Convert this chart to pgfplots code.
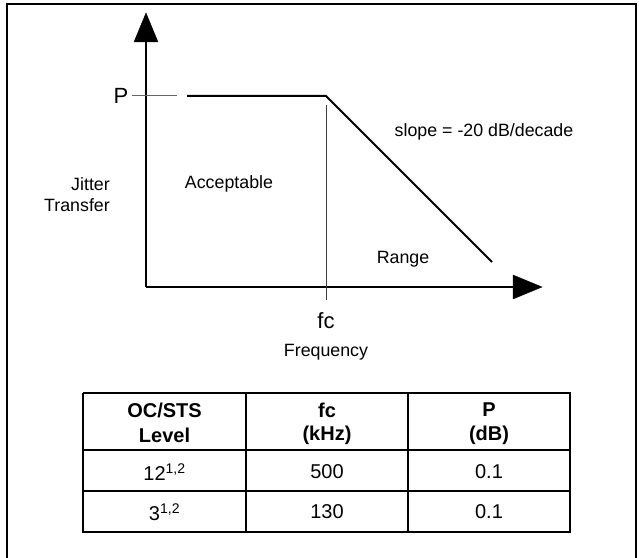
\documentclass[border=0pt]{standalone}
\usepackage{fontspec}
\setmainfont{Liberation Sans}
\usepackage{pgfplots}
\pgfplotsset{compat=1.18}
\begin{document}
\begin{tikzpicture}
\begin{axis}[
  width=639pt, height=557pt, scale only axis,
  xmin=0, xmax=639, ymin=0, ymax=557,
  hide axis, clip=true,
]
% invisible bounding
\addplot[draw=none, forget plot] coordinates {(0,0) (639,557)};
% outer frame
\addplot[black, line width=2.2pt] coordinates {(7,-5) (7,553) (636,553) (636,-5)};
% axes
\addplot[black, line width=1.2pt] coordinates {(146,270) (146,517)};
\addplot[black, line width=1.2pt] coordinates {(146,270) (515,270)};
\addplot[black, fill=black] coordinates {(134,515) (146,544) (158,515)} -- cycle;
\addplot[black, fill=black] coordinates {(513,282) (542,270) (513,258)} -- cycle;
% P tick
\addplot[black!60, line width=1pt] coordinates {(132,461) (177,461)};
% transfer curve
\addplot[black, line width=2pt] coordinates {(187,461) (326,461) (492,295)};
% fc marker
\addplot[black!75, line width=1pt] coordinates {(326,452) (326,257)};
% labels
\node[font=\fontsize{22}{26}\selectfont] at (axis cs:121,461) {P};
\node[font=\fontsize{22}{26}\selectfont] at (axis cs:326,236) {fc};
\node[font=\fontsize{17.8}{21}\selectfont] at (axis cs:326,205) {Frequency};
\node[font=\fontsize{17.8}{21}\selectfont, anchor=east, inner sep=0pt] at (axis cs:110,373) {Jitter};
\node[font=\fontsize{17.8}{21}\selectfont, anchor=east, inner sep=0pt] at (axis cs:110,352) {Transfer};
\node[font=\fontsize{17.8}{21}\selectfont] at (axis cs:229,373) {Acceptable};
\node[font=\fontsize{17.8}{21}\selectfont] at (axis cs:484,425) {slope = -20 dB/decade};
\node[font=\fontsize{17.8}{21}\selectfont] at (axis cs:403,298) {Range};
% table grid
\addplot[black, line width=2pt] coordinates {(83,164) (570,164) (570,25) (83,25) (83,164)};
\addplot[black, line width=2pt] coordinates {(83,107) (570,107)};
\addplot[black, line width=2pt] coordinates {(83,66) (570,66)};
\addplot[black, line width=2pt] coordinates {(246,164) (246,25)};
\addplot[black, line width=2pt] coordinates {(408,164) (408,25)};
% table text
\node[font=\fontsize{20}{24}\selectfont\bfseries] at (axis cs:164.5,147) {OC/STS};
\node[font=\fontsize{20}{24}\selectfont\bfseries] at (axis cs:164.5,122) {Level};
\node[font=\fontsize{20}{24}\selectfont\bfseries] at (axis cs:327,147) {fc};
\node[font=\fontsize{20}{24}\selectfont\bfseries] at (axis cs:327,122) {(kHz)};
\node[font=\fontsize{20}{24}\selectfont\bfseries] at (axis cs:489,147) {P};
\node[font=\fontsize{20}{24}\selectfont\bfseries] at (axis cs:489,122) {(dB)};
\node[font=\fontsize{20}{24}\selectfont] at (axis cs:164.5,85) {12\textsuperscript{1,2}};
\node[font=\fontsize{20}{24}\selectfont] at (axis cs:327,85) {500};
\node[font=\fontsize{20}{24}\selectfont] at (axis cs:489,85) {0.1};
\node[font=\fontsize{20}{24}\selectfont] at (axis cs:164.5,45) {3\textsuperscript{1,2}};
\node[font=\fontsize{20}{24}\selectfont] at (axis cs:327,45) {130};
\node[font=\fontsize{20}{24}\selectfont] at (axis cs:489,45) {0.1};
\end{axis}
\end{tikzpicture}
\end{document}
